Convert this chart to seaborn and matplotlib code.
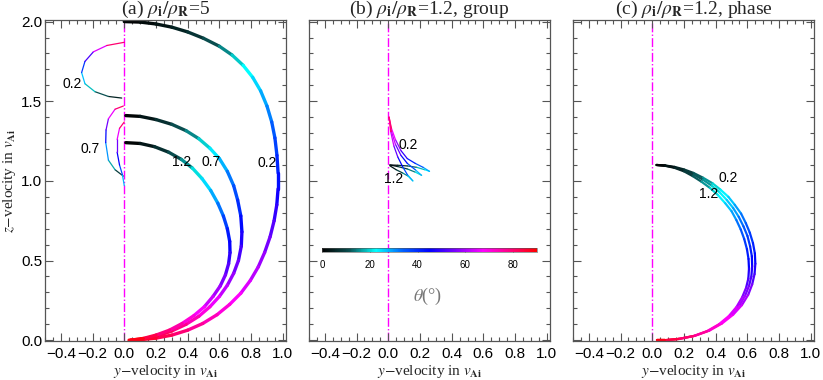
import numpy as np
import matplotlib
matplotlib.use("Agg")
import matplotlib.pyplot as plt
import seaborn as sns
from matplotlib.collections import LineCollection
from matplotlib.ticker import MultipleLocator
from matplotlib.colors import Normalize
from matplotlib.cm import ScalarMappable


# ============================================
# DATA
# ============================================

# panel (a): rho_i/rho_R = 5, group diagrams, main branches
a02_y = [0.00, 0.10, 0.20, 0.30, 0.40, 0.50, 0.60, 0.68, 0.75, 0.81, 0.86, 0.90, 0.93, 0.95, 0.963, 0.97,
         0.97, 0.962, 0.945, 0.92, 0.885, 0.845, 0.795, 0.735, 0.665, 0.585, 0.495, 0.40, 0.30, 0.20, 0.10, 0.03]
a02_z = [2.000, 1.997, 1.985, 1.965, 1.935, 1.895, 1.845, 1.79, 1.725, 1.65, 1.565, 1.47, 1.37, 1.27, 1.16, 1.05,
         0.95, 0.85, 0.75, 0.65, 0.55, 0.46, 0.375, 0.295, 0.225, 0.16, 0.105, 0.063, 0.032, 0.013, 0.003, 0.0]
a02_t = [0, 1, 2, 4, 6, 9, 13, 17, 21, 24, 27, 30, 33, 36, 39, 42,
         45, 48, 51, 54, 57, 60, 63, 66, 69, 72, 75, 78, 81, 84, 87, 90]

a07_y = [0.01, 0.10, 0.20, 0.30, 0.39, 0.47, 0.54, 0.60, 0.65, 0.69, 0.715, 0.735, 0.742,
         0.738, 0.72, 0.69, 0.65, 0.60, 0.54, 0.47, 0.39, 0.30, 0.21, 0.12, 0.04]
a07_z = [1.41, 1.405, 1.385, 1.355, 1.315, 1.265, 1.205, 1.14, 1.06, 0.97, 0.88, 0.78, 0.68,
         0.59, 0.50, 0.42, 0.345, 0.275, 0.21, 0.15, 0.10, 0.058, 0.027, 0.009, 0.0]
a07_t = [0, 2, 5, 9, 13, 17, 22, 26, 30, 34, 38, 42, 46,
         49, 53, 57, 60, 64, 68, 72, 76, 80, 84, 87, 90]

a12_y = [0.01, 0.10, 0.19, 0.28, 0.36, 0.43, 0.49, 0.545, 0.59, 0.625, 0.65, 0.665,
         0.667, 0.658, 0.638, 0.605, 0.56, 0.505, 0.44, 0.365, 0.285, 0.20, 0.12, 0.04]
a12_z = [1.24, 1.235, 1.215, 1.18, 1.135, 1.08, 1.015, 0.94, 0.86, 0.78, 0.70, 0.62,
         0.55, 0.48, 0.41, 0.34, 0.275, 0.21, 0.155, 0.105, 0.063, 0.032, 0.011, 0.0]
a12_t = [0, 2, 5, 9, 13, 18, 23, 27, 30, 35, 40, 44,
         47, 51, 54, 58, 61, 65, 69, 73, 77, 81, 86, 90]

# panel (a): thin loops on the left
l02_y = [-0.016, -0.10, -0.185, -0.248, -0.269, -0.248, -0.195, -0.11, 0.0]
l02_z = [1.52, 1.53, 1.56, 1.61, 1.68, 1.75, 1.81, 1.85, 1.87]
l02_t = [2, 8, 15, 22, 32, 45, 58, 72, 88]

l07_y = [-0.006, -0.058, -0.10, -0.117, -0.115, -0.10, -0.058, -0.006]
l07_z = [1.03, 1.07, 1.13, 1.24, 1.32, 1.39, 1.45, 1.47]
l07_t = [5, 12, 22, 38, 50, 60, 72, 88]

l12_y = [0.0, -0.012, -0.03, -0.045, -0.045, -0.03, 0.0]
l12_z = [0.97, 1.04, 1.10, 1.18, 1.26, 1.33, 1.37]
l12_t = [24, 32, 40, 50, 60, 72, 88]

# panel (b): rho_i/rho_R = 1.2, group
b02_y = [0.01, 0.06, 0.12, 0.18, 0.23, 0.26, 0.22, 0.17, 0.12, 0.08, 0.045, 0.02, 0.005]
b02_z = [1.10, 1.098, 1.094, 1.085, 1.07, 1.06, 1.085, 1.11, 1.14, 1.19, 1.26, 1.33, 1.40]
b02_t = [0, 4, 9, 15, 21, 26, 32, 38, 45, 53, 62, 72, 90]

b07_y = [0.01, 0.06, 0.12, 0.17, 0.21, 0.17, 0.12, 0.08, 0.045, 0.02, 0.005]
b07_z = [1.10, 1.09, 1.075, 1.055, 1.035, 1.07, 1.11, 1.16, 1.23, 1.31, 1.40]
b07_t = [0, 5, 11, 17, 24, 32, 40, 49, 58, 68, 90]

b12_y = [0.01, 0.05, 0.09, 0.125, 0.155, 0.12, 0.09, 0.06, 0.035, 0.015, 0.005]
b12_z = [1.095, 1.07, 1.05, 1.03, 1.0, 1.04, 1.09, 1.15, 1.22, 1.31, 1.40]
b12_t = [0, 6, 12, 18, 24, 32, 40, 49, 58, 68, 90]

# panel (c): rho_i/rho_R = 1.2, phase
c_t = [0, 2, 4, 7, 10, 14, 18, 22, 25, 28, 31, 34, 37, 40, 43, 46,
       50, 54, 58, 62, 66, 70, 74, 78, 82, 86, 90]
c02_y = [0.027, 0.08, 0.14, 0.20, 0.26, 0.32, 0.38, 0.43, 0.48, 0.52, 0.56, 0.59, 0.615, 0.635, 0.647, 0.65,
         0.645, 0.63, 0.605, 0.565, 0.51, 0.44, 0.36, 0.27, 0.17, 0.08, 0.027]
c02_z = [1.10, 1.097, 1.088, 1.072, 1.05, 1.02, 0.985, 0.945, 0.90, 0.85, 0.795, 0.735, 0.675, 0.61, 0.545, 0.48,
         0.415, 0.35, 0.285, 0.22, 0.16, 0.105, 0.06, 0.028, 0.008, 0.0, 0.0]
c07_y = [0.027, 0.08, 0.14, 0.20, 0.26, 0.32, 0.375, 0.425, 0.47, 0.51, 0.545, 0.575, 0.60, 0.617, 0.628, 0.63,
         0.625, 0.61, 0.585, 0.548, 0.497, 0.43, 0.353, 0.265, 0.167, 0.08, 0.027]
c07_z = [1.10, 1.096, 1.085, 1.066, 1.04, 1.007, 0.97, 0.928, 0.88, 0.83, 0.775, 0.715, 0.655, 0.59, 0.527, 0.465,
         0.40, 0.34, 0.278, 0.215, 0.156, 0.103, 0.059, 0.027, 0.008, 0.0, 0.0]
c12_y = [0.027, 0.08, 0.14, 0.20, 0.255, 0.31, 0.365, 0.415, 0.46, 0.50, 0.53, 0.558, 0.58, 0.597, 0.607, 0.61,
         0.606, 0.592, 0.567, 0.532, 0.483, 0.42, 0.345, 0.26, 0.165, 0.08, 0.027]
c12_z = [1.10, 1.095, 1.082, 1.06, 1.03, 0.995, 0.955, 0.91, 0.86, 0.81, 0.755, 0.695, 0.635, 0.572, 0.51, 0.45,
         0.388, 0.33, 0.27, 0.21, 0.152, 0.10, 0.057, 0.026, 0.008, 0.0, 0.0]

cbar_ticks = [0, 20, 40, 60, 80]


# ============================================
# STYLE
# ============================================

sns.set_theme(style="ticks")

plt.rcParams["font.family"] = ["Liberation Sans", "DejaVu Sans"]
plt.rcParams["mathtext.fontset"] = "stix"
plt.rcParams["axes.edgecolor"] = "#555555"
plt.rcParams["xtick.color"] = "#555555"
plt.rcParams["ytick.color"] = "#555555"
plt.rcParams["xtick.labelcolor"] = "black"
plt.rcParams["ytick.labelcolor"] = "black"

theta_cmap = sns.blend_palette(
    ["#000000", "#0a4f50", "#00ffff", "#0060ff", "#0000ff", "#8000ff", "#ff00ff", "#ff0080", "#ff0000"],
    as_cmap=True
)
theta_norm = Normalize(0, 90)

serif = ["Liberation Serif", "DejaVu Serif"]


def draw_curve(ax, y, z, t, lw):
    pts = np.column_stack([y, z])
    segs = np.stack([pts[:-1], pts[1:]], axis=1)
    t = np.asarray(t, dtype=float)
    mid = 0.5 * (t[:-1] + t[1:])
    lc = LineCollection(
        segs,
        colors=theta_cmap(theta_norm(mid)),
        linewidths=lw,
        capstyle="round",
        joinstyle="round"
    )
    ax.add_collection(lc)


def style_axes(ax, title, ylabels=True):
    ax.set_xlim(-0.5, 1.02)
    ax.set_ylim(-0.005, 2.01)
    ax.xaxis.set_major_locator(MultipleLocator(0.2))
    ax.xaxis.set_minor_locator(MultipleLocator(0.05))
    ax.yaxis.set_major_locator(MultipleLocator(0.5))
    ax.yaxis.set_minor_locator(MultipleLocator(0.1))
    ax.tick_params(which="both", direction="in", top=True, right=True, width=0.8)
    ax.tick_params(which="major", length=6, labelsize=11)
    ax.tick_params(which="minor", length=3)
    ax.tick_params(axis="x", which="major", pad=4)
    ax.tick_params(axis="y", which="major", pad=2)
    ax.set_xticks([-0.4, -0.2, 0.0, 0.2, 0.4, 0.6, 0.8, 1.0])
    ax.set_xticklabels(["\u22120.4", "\u22120.2", "0.0", "0.2", "0.4", "0.6", "0.8", "1.0"])
    ax.set_yticks([0.0, 0.5, 1.0, 1.5, 2.0])
    if ylabels:
        ax.set_yticklabels(["0.0", "0.5", "1.0", "1.5", "2.0"])
    else:
        ax.set_yticklabels([])
    for sp in ax.spines.values():
        sp.set_linewidth(0.9)
    ax.axvline(0.0, color="#ff00ff", lw=1.0, ls="-.", zorder=0)
    ax.set_title(title, fontsize=14, family=serif, pad=3)
    ax.set_xlabel(r"$y$$-$velocity in $v_{\mathbf{Ai}}$", fontsize=11, family=serif)
    ax.xaxis.set_label_coords(0.5, -30 / 321)
    ax.xaxis.label.set_va("center")


fig = plt.figure(figsize=(8.23, 3.8), dpi=100)

axA = fig.add_axes([45 / 823, 39 / 380, 241 / 823, 321 / 380])
axB = fig.add_axes([309 / 823, 39 / 380, 241 / 823, 321 / 380])
axC = fig.add_axes([573 / 823, 39 / 380, 241 / 823, 321 / 380])


# ============================================
# PANEL (a)
# ============================================

style_axes(axA, r"(a) $\rho_{\mathbf{i}}/\rho_{\mathbf{R}}$=5")
axA.set_ylabel(r"$z$$-$velocity in $v_{\mathbf{Ai}}$", fontsize=11, family=serif)
axA.yaxis.set_label_coords(-35 / 241, 0.5)
axA.yaxis.label.set_va("center")

draw_curve(axA, a02_y, a02_z, a02_t, 2.4)
draw_curve(axA, a07_y, a07_z, a07_t, 2.4)
draw_curve(axA, a12_y, a12_z, a12_t, 2.4)
draw_curve(axA, l02_y, l02_z, l02_t, 0.9)
draw_curve(axA, l07_y, l07_z, l07_t, 0.9)
draw_curve(axA, l12_y, l12_z, l12_t, 0.9)

lab = dict(fontsize=10, ha="center", va="center", color="black")
axA.text(-0.33, 1.61, "0.2", **lab)
axA.text(-0.215, 1.20, "0.7", **lab)
axA.text(0.36, 1.12, "1.2", **lab)
axA.text(0.545, 1.12, "0.7", **lab)
axA.text(0.90, 1.11, "0.2", **lab)


# ============================================
# PANEL (b)
# ============================================

style_axes(axB, r"(b) $\rho_{\mathbf{i}}/\rho_{\mathbf{R}}$=1.2, group", ylabels=False)

draw_curve(axB, b02_y, b02_z, b02_t, 0.9)
draw_curve(axB, b07_y, b07_z, b07_t, 0.9)
draw_curve(axB, b12_y, b12_z, b12_t, 0.9)

axB.text(0.125, 1.225, "0.2", **lab)
axB.text(0.035, 1.015, "1.2", **lab)

cax = fig.add_axes([322 / 823, 128 / 380, 215 / 823, 4.5 / 380])
cb = fig.colorbar(
    ScalarMappable(norm=theta_norm, cmap=theta_cmap),
    cax=cax,
    orientation="horizontal"
)
cb.set_ticks(cbar_ticks)
cb.ax.tick_params(labelsize=7, length=2, width=0.5, pad=6, direction="in", color="#444444")
cb.outline.set_linewidth(0.4)
fig.text(428 / 823, 1 - 296 / 380, r"$\theta$(°)", fontsize=13, color="#777777",
         ha="center", va="center", family=serif)


# ============================================
# PANEL (c)
# ============================================

style_axes(axC, r"(c) $\rho_{\mathbf{i}}/\rho_{\mathbf{R}}$=1.2, phase", ylabels=False)

draw_curve(axC, c02_y, c02_z, c_t, 1.6)
draw_curve(axC, c07_y, c07_z, c_t, 1.6)
draw_curve(axC, c12_y, c12_z, c_t, 1.6)

axC.text(0.48, 1.02, "0.2", **lab)
axC.text(0.355, 0.92, "1.2", **lab)


plt.savefig("out.png", dpi=100)
